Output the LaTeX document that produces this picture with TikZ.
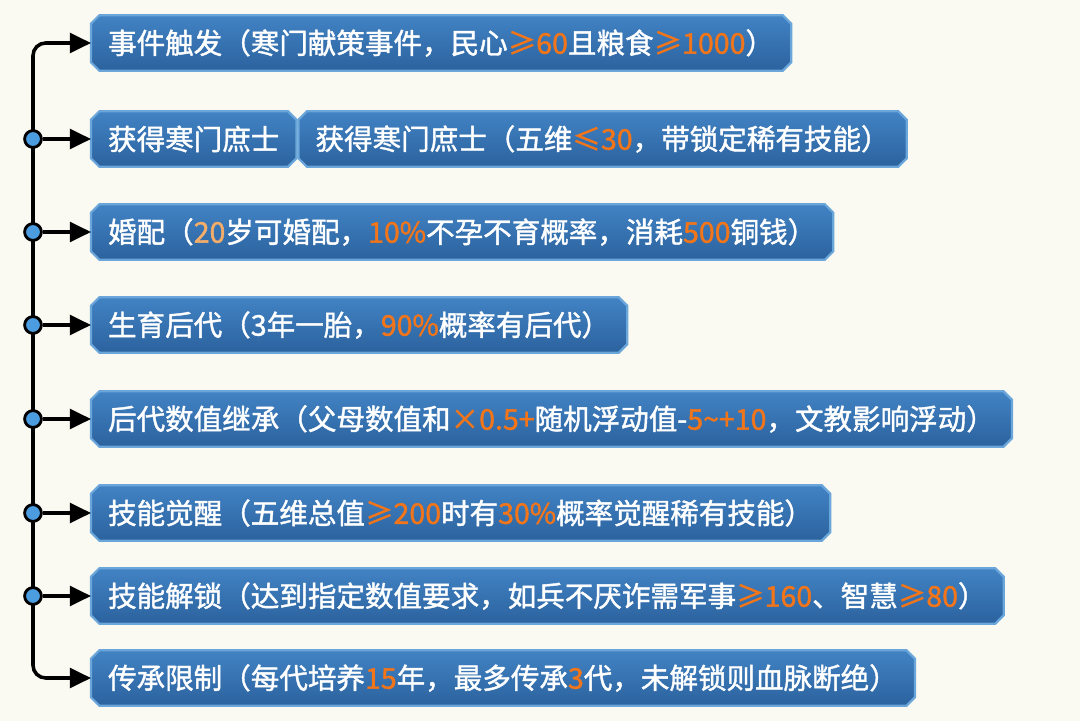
\documentclass[tikz,border=0pt]{standalone}
\usepackage{fontspec}
\setmainfont{Noto Sans CJK SC}[FakeBold=1.4]
\usetikzlibrary{positioning,arrows.meta,backgrounds}
\definecolor{paper}{HTML}{FBFAF2}
\definecolor{boxtop}{HTML}{4283C4}
\definecolor{boxbot}{HTML}{2B629E}
\definecolor{boxrim}{HTML}{6AA6DA}
\definecolor{hiorange}{HTML}{F2751A}
\definecolor{hipeach}{HTML}{F5AE6A}
\definecolor{dotblue}{HTML}{4C9CE0}
\newcommand\hl[1]{\textcolor{hiorange}{#1}}
\newcommand\plate[1]{\draw[platebox] ([xshift=6pt]#1.north west) -- ([xshift=-6pt]#1.north east) -- ([yshift=-6pt]#1.north east)
  -- ([yshift=6pt]#1.south east) -- ([xshift=-6pt]#1.south east) -- ([xshift=6pt]#1.south west) -- ([yshift=6pt]#1.south west)
  -- ([yshift=-6pt]#1.north west) -- cycle;}
\tikzset{
  stage/.style={rectangle, text=white, minimum height=1.375cm, inner xsep=0.42cm, anchor=west, font=\fontsize{20.3}{24}\selectfont},
  platebox/.style={top color=boxtop, bottom color=boxbot, draw=boxrim, line width=1.6pt},
  link/.style={line width=2.5pt, -{Triangle[length=15pt,width=14pt]}},
  knot/.style={circle, fill=dotblue, draw=black, line width=2pt, minimum size=0.42cm, inner sep=0pt}
}
\begin{document}
\begin{tikzpicture}[x=0.025cm,y=-0.025cm]
  \useasboundingbox (0,0) rectangle (1080,721);
  \coordinate (spine) at (33,0);

  \node[stage] (ev1) at (91,43) {事件触发（寒门献策事件，民心\hl{≥60}且粮食\hl{≥1000}）};
  \node[stage] (ev2) at (91,139) {获得寒门庶士};
  \node[stage, right=0.05cm of ev2, anchor=west] (ev2b) {获得寒门庶士（五维\hl{≤30}，带锁定稀有技能）};
  \node[stage] (ev3) at (91,232) {婚配（\textcolor{hipeach}{20}岁可婚配，\hl{10\%}不孕不育概率，消耗\hl{500}铜钱）};
  \node[stage] (ev4) at (91,325) {生育后代（3年一胎，\hl{90\%}概率有后代）};
  \node[stage] (ev5) at (91,419) {后代数值继承（父母数值和\hl{×0.5+}随机浮动值-\hl{5\textasciitilde+10}，文教影响浮动）};
  \node[stage] (ev6) at (91,513) {技能觉醒（五维总值\hl{≥200}时有\hl{30\%}概率觉醒稀有技能）};
  \node[stage] (ev7) at (91,596) {技能解锁（达到指定数值要求，如兵不厌诈需军事\hl{≥160}、智慧\hl{≥80}）};
  \node[stage] (ev8) at (91,678) {传承限制（每代培养\hl{15}年，最多传承\hl{3}代，未解锁则血脉断绝）};

  \begin{scope}[on background layer]
    \fill[paper] (0,0) rectangle (1080,721);
    \foreach \b in {ev1,ev2,ev2b,ev3,ev4,ev5,ev6,ev7,ev8} {\plate{\b}}
  \end{scope}

  \draw[link, {Triangle[length=15pt,width=14pt]}-{Triangle[length=15pt,width=14pt]}, rounded corners=9pt]
    (ev1.west) -- (ev1.west -| spine) -- (ev8.west -| spine) -- (ev8.west);
  \foreach \i in {2,...,7} {
    \node[knot] (k\i) at (ev\i.west -| spine) {};
    \draw[link] (k\i) -- (ev\i);
  }
\end{tikzpicture}
\end{document}
